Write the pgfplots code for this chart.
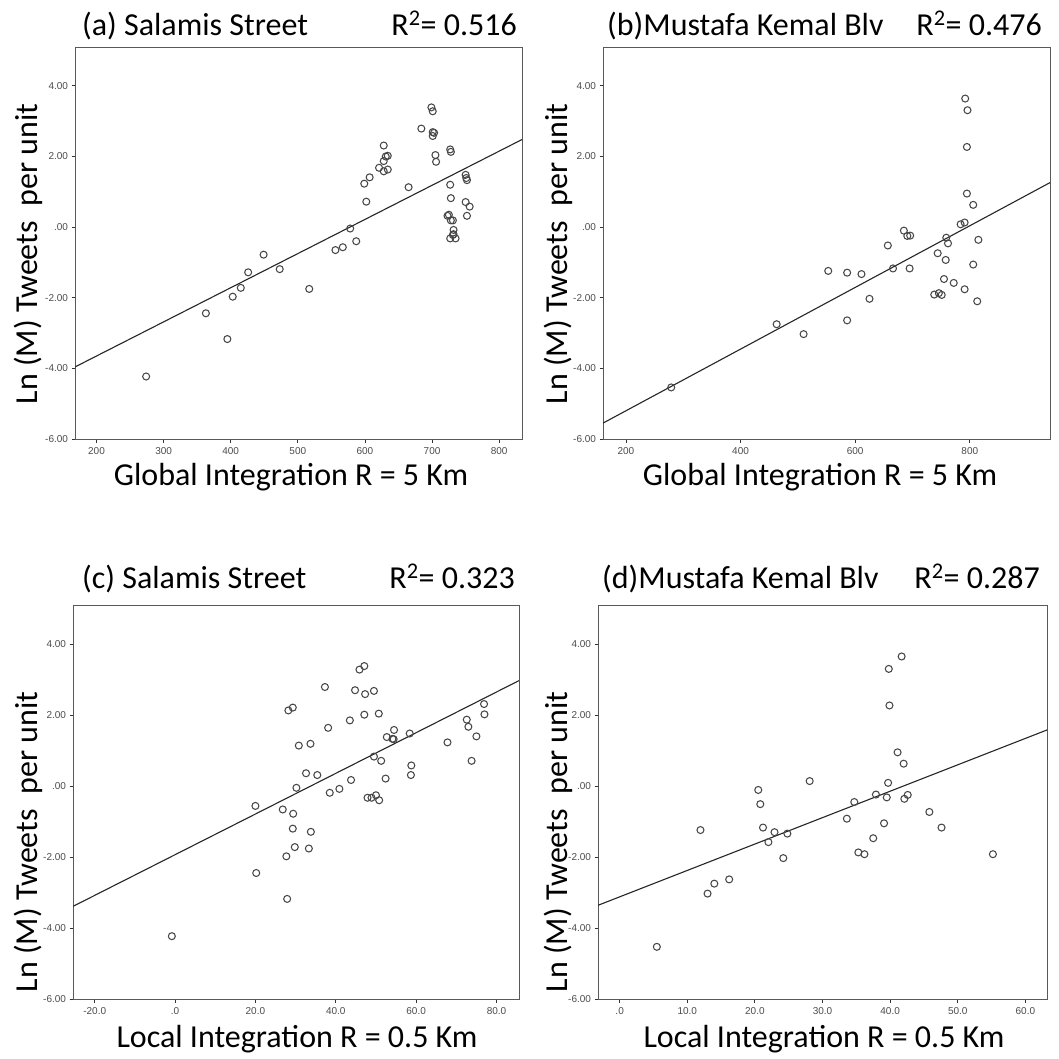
\documentclass[border=0pt]{standalone}
\usepackage{pgfplots}
\pgfplotsset{compat=1.18}
\usepackage{fontspec}
\setmainfont{Carlito}
\newfontfamily\tickfont{Liberation Sans}
\begin{document}
\begin{tikzpicture}
\path[use as bounding box, fill=white] (0pt,0pt) rectangle (1059pt,-1058pt);
\pgfplotsset{
  panel/.style={scale only axis, anchor=north west, ymin=-6, ymax=5.1,
    axis line style={black!65, line width=0.9pt},
    tick style={black!80, line width=0.8pt}, tick align=outside, major tick length=3.5pt,
    xtick pos=bottom, ytick pos=left, minor tick num=0,
    ytick={-6,-4,-2,0,2,4}, yticklabels={-6.00,-4.00,-2.00,.00,2.00,4.00},
    tick label style={font=\tickfont\fontsize{10}{11}\selectfont, text=black!70},
    xticklabel style={yshift=-1pt}},
  pts/.style={only marks, mark=o, mark size=3.5pt, mark options={line width=1.05pt, draw=black!72}},
  fitl/.style={no marks, black!85, line width=1.1pt},
}
\def\bigf{\fontsize{32}{36}\selectfont}
% (a)
\begin{axis}[panel, at={(75pt,-47pt)}, width=447pt, height=392pt,
  xmin=168, xmax=834, xtick={200,300,400,500,600,700,800},
  xticklabels={200,300,400,500,600,700,800}]
\addplot[pts] coordinates {(274,-4.23) (363,-2.44) (395,-3.17) (403,-1.97) (415,-1.72) (426,-1.28) (449,-0.78) (473,-1.19) (517,-1.75) (556,-0.65) (567,-0.57) (578,-0.04) (587,-0.40) (599,1.23) (607,1.41) (602,0.72) (621,1.68) (628,2.31) (628,1.87) (631,2.00) (634,2.02) (628,1.58) (634,1.63) (665,1.13) (684,2.79) (699,3.39) (701,3.28) (701,2.69) (703,2.67) (701,2.58) (705,2.04) (706,1.85) (727,2.20) (728,2.13) (727,1.20) (728,0.82) (723,0.32) (725,0.35) (728,0.19) (731,0.19) (732,-0.08) (732,-0.20) (727,-0.32) (735,-0.32) (731,-0.22) (750,1.48) (751,1.39) (752,1.33) (750,0.71) (756,0.58) (752,0.32)};
\addplot[fitl] coordinates {(168,-3.96) (834,2.48)};
\end{axis}
% (b)
\begin{axis}[panel, at={(603pt,-47pt)}, width=447pt, height=392pt,
  xmin=160, xmax=940, xtick={200,400,600,800},
  xticklabels={200,400,600,800}]
\addplot[pts] coordinates {(279,-4.54) (463,-2.75) (510,-3.03) (553,-1.24) (586,-1.29) (586,-2.64) (611,-1.33) (625,-2.03) (657,-0.52) (666,-1.17) (685,-0.10) (691,-0.25) (696,-0.24) (695,-1.17) (738,-1.91) (746,-1.87) (751,-1.92) (744,-0.74) (759,-0.30) (762,-0.46) (758,-0.93) (755,-1.47) (772,-1.58) (791,-1.76) (784,0.08) (791,0.13) (795,0.95) (806,0.63) (815,-0.36) (806,-1.06) (813,-2.10) (792,3.64) (796,3.31) (795,2.27)};
\addplot[fitl] coordinates {(160,-5.55) (940,1.26)};
\end{axis}
% (c)
\begin{axis}[panel, at={(73pt,-605pt)}, width=446pt, height=394pt,
  xmin=-25.4, xmax=85.6, xtick={-20,0,20,40,60,80},
  xticklabels={-20.0,.0,20.0,40.0,60.0,80.0}]
\addplot[pts] coordinates {(-0.8,-4.23) (20.0,-0.56) (20.2,-2.45) (26.8,-0.66) (27.7,-1.98) (27.9,-3.18) (28.2,2.13) (29.3,2.21) (29.4,-0.78) (29.3,-1.20) (29.8,-1.72) (30.2,-0.05) (30.8,1.14) (32.6,0.36) (33.7,1.19) (33.8,-1.29) (33.3,-1.76) (35.4,0.31) (37.3,2.79) (38.1,1.64) (38.5,-0.19) (40.9,-0.08) (43.5,1.85) (43.8,0.17) (44.8,2.70) (45.9,3.28) (47.1,3.38) (47.3,2.59) (47.1,2.01) (49.5,2.68) (50.7,2.04) (49.5,0.83) (51.3,0.71) (47.9,-0.33) (48.9,-0.33) (50.0,-0.26) (50.8,-0.40) (52.4,0.21) (52.7,1.38) (54.1,1.33) (54.5,1.58) (54.4,1.32) (58.4,1.48) (58.8,0.58) (58.7,0.31) (67.8,1.23) (72.6,1.87) (73.0,1.67) (73.8,0.71) (75.0,1.40) (76.9,2.31) (77.0,2.02)};
\addplot[fitl] coordinates {(-25.4,-3.39) (85.6,2.97)};
\end{axis}
% (d)
\begin{axis}[panel, at={(598pt,-605pt)}, width=449pt, height=394pt,
  xmin=-3.2, xmax=63.2, xtick={0,10,20,30,40,50,60},
  xticklabels={.0,10.0,20.0,30.0,40.0,50.0,60.0}]
\addplot[pts] coordinates {(5.5,-4.53) (11.95,-1.24) (13.0,-3.03) (14.0,-2.75) (16.2,-2.63) (20.5,-0.11) (20.8,-0.51) (21.2,-1.17) (22.0,-1.58) (22.9,-1.30) (24.2,-2.03) (24.8,-1.34) (28.1,0.14) (33.6,-0.92) (34.7,-0.45) (35.3,-1.87) (36.2,-1.92) (37.5,-1.47) (37.9,-0.24) (39.1,-1.05) (39.5,-0.32) (39.8,3.30) (39.9,2.27) (39.7,0.09) (41.1,0.95) (41.7,3.65) (42.0,0.63) (42.1,-0.36) (42.6,-0.25) (45.8,-0.73) (47.6,-1.17) (55.2,-1.92)};
\addplot[fitl] coordinates {(-3.2,-3.36) (63.2,1.58)};
\end{axis}
% titles
\node[anchor=base west, font=\bigf, inner sep=0pt] at (82pt,-35pt) {(a) Salamis Street};
\node[anchor=base east, font=\bigf, inner sep=0pt] at (517pt,-35pt) {R\textsuperscript{2}= 0.516};
\node[anchor=base west, font=\bigf, inner sep=0pt] at (607pt,-35pt) {(b)Mustafa Kemal Blv};
\node[anchor=base east, font=\bigf, inner sep=0pt] at (1042pt,-35pt) {R\textsuperscript{2}= 0.476};
\node[anchor=base west, font=\bigf, inner sep=0pt] at (82pt,-588pt) {(c) Salamis Street};
\node[anchor=base east, font=\bigf, inner sep=0pt] at (515pt,-588pt) {R\textsuperscript{2}= 0.323};
\node[anchor=base west, font=\bigf, inner sep=0pt] at (602pt,-588pt) {(d)Mustafa Kemal Blv};
\node[anchor=base east, font=\bigf, inner sep=0pt] at (1040pt,-588pt) {R\textsuperscript{2}= 0.287};
% x labels
\node[anchor=base, font=\bigf, inner sep=0pt] at (291pt,-485pt) {Global Integration R = 5 Km};
\node[anchor=base, font=\bigf, inner sep=0pt] at (820pt,-485pt) {Global Integration R = 5 Km};
\node[anchor=base, font=\bigf, inner sep=0pt] at (297pt,-1047pt) {Local Integration R = 0.5 Km};
\node[anchor=base, font=\bigf, inner sep=0pt] at (824pt,-1047pt) {Local Integration R = 0.5 Km};
% y labels
\node[anchor=base, rotate=90, font=\bigf, inner sep=0pt] at (37pt,-254pt) {Ln (M) Tweets\ \ per unit};
\node[anchor=base, rotate=90, font=\bigf, inner sep=0pt] at (567pt,-254pt) {Ln (M) Tweets\ \ per unit};
\node[anchor=base, rotate=90, font=\bigf, inner sep=0pt] at (37pt,-842pt) {Ln (M) Tweets\ \ per unit};
\node[anchor=base, rotate=90, font=\bigf, inner sep=0pt] at (567pt,-842pt) {Ln (M) Tweets\ \ per unit};
\end{tikzpicture}
\end{document}
